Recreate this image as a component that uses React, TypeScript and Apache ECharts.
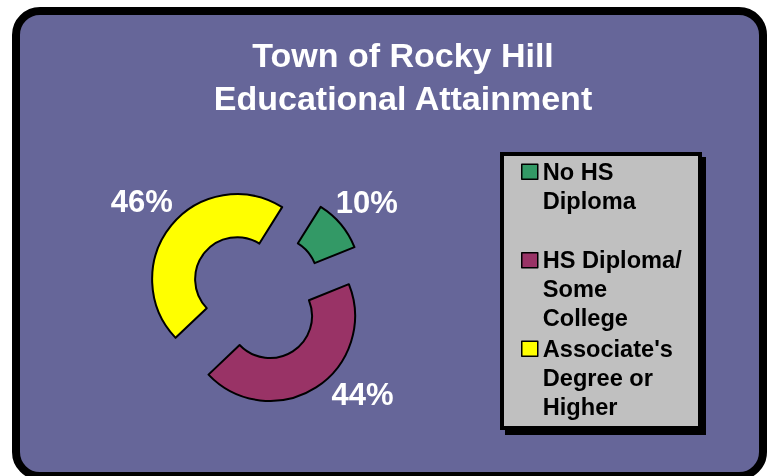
import React, { useEffect, useRef } from "react";
import * as echarts from "echarts";

const titleLines = ["Town of Rocky Hill", "Educational Attainment"];
const categories = ["No HS Diploma", "HS Diploma/ Some College", "Associate's Degree or Higher"];
const legendLabels = ["No HS\nDiploma\n ", "HS Diploma/\nSome\nCollege", "Associate's\nDegree or\nHigher"];
const values = [10, 44, 46];
const colors = ["#339966", "#993366", "#FFFF00"];
const labelLineLengths = [34, 8, 38];
const labelLineLengths2 = [0, 42, 0];

const FONT = "'Liberation Sans', Arial, Helvetica, sans-serif";

export default function App() {
  const ref = useRef<HTMLDivElement>(null);

  useEffect(() => {
    if (!ref.current) return;
    const chart = echarts.init(ref.current, null, { renderer: "svg" });

    const data = categories.map((name, i) => ({
      name,
      value: values[i],
      selected: true,
      itemStyle: { color: colors[i] },
      labelLine: { show: false, length: labelLineLengths[i], length2: labelLineLengths2[i] },
    }));

    const option: any = {
      animation: false,
      graphic: [
        {
          type: "rect",
          z: 0,
          shape: { x: 16, y: 11, width: 747, height: 465, r: 24 },
          style: { fill: "#666699", stroke: "#000", lineWidth: 8 },
        },
        {
          type: "rect",
          z: 1,
          shape: { x: 505, y: 157, width: 201, height: 278 },
          style: { fill: "#000" },
        },
        {
          type: "rect",
          z: 2,
          shape: { x: 502, y: 154, width: 198, height: 274 },
          style: { fill: "#C0C0C0", stroke: "#000", lineWidth: 4 },
        },
      ],
      title: {
        text: titleLines.join("\n"),
        left: 403,
        top: 33.5,
        padding: 0,
        textAlign: "center",
        textStyle: {
          color: "#FFFFFF",
          fontFamily: FONT,
          fontWeight: "bold",
          fontSize: 34,
          lineHeight: 43,
        },
      },
      legend: {
        orient: "vertical",
        left: 521,
        top: 156.5,
        padding: 0,
        itemGap: 0,
        itemWidth: 16,
        itemHeight: 87,
        selectedMode: false,
        icon: "path://M0 7H16V22H0Z M0 0 M0 87",
        itemStyle: { borderColor: "#000", borderWidth: 1.5 },
        data: categories,
        formatter: (name: string) => legendLabels[categories.indexOf(name)],
        textStyle: {
          color: "#000",
          fontFamily: FONT,
          fontWeight: "bold",
          fontSize: 23.6,
          lineHeight: 29,
        },
      },
      series: [
        {
          type: "pie",
          center: [256.5, 295],
          radius: [42, 85],
          startAngle: 58,
          clockwise: true,
          selectedMode: "multiple",
          selectedOffset: 25,
          avoidLabelOverlap: false,
          itemStyle: { borderColor: "#000", borderWidth: 2 },
          select: { itemStyle: { borderColor: "#000", borderWidth: 2 } },
          emphasis: { disabled: true },
          label: {
            show: true,
            position: "outside",
            formatter: "{c}%",
            color: "#FFFFFF",
            fontFamily: FONT,
            fontWeight: "bold",
            fontSize: 31,
            distanceToLabelLine: 0,
          },
          labelLine: { show: false },
          labelLayout: () => ({ align: "center" }),
          data,
        },
      ],
    };

    chart.setOption(option);
    return () => chart.dispose();
  }, []);

  return (
    <div
      ref={ref}
      style={{ position: "fixed", left: 0, top: 0, width: 769, height: 476 }}
    />
  );
}
